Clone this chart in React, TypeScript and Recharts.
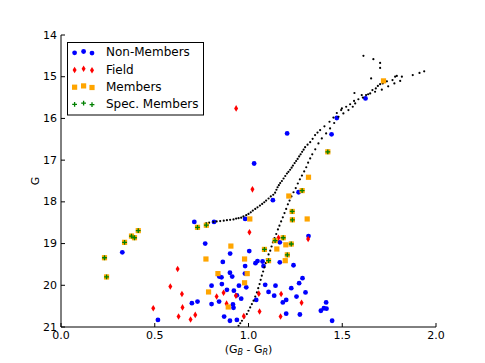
import React from 'react';
import { ScatterChart, Scatter, XAxis, YAxis, Legend } from 'recharts';

const xTicks = [0, 0.5, 1.0, 1.5, 2.0];
const yTicks = [14, 15, 16, 17, 18, 19, 20, 21];
const legendLabels = ['Non-Members', 'Field', 'Members', 'Spec. Members'];

const nonMembers: [number, number][] = [
  [0.711, 18.48], [0.816, 18.48], [0.327, 19.21], [0.769, 19.0], [0.902, 19.24], [0.863, 19.44],
  [0.901, 19.7], [0.844, 19.79], [0.856, 19.81], [0.858, 19.97], [0.803, 20.01], [0.949, 20.01],
  [0.885, 20.11], [0.922, 20.13], [0.843, 20.39], [0.803, 20.45], [0.728, 20.39], [0.698, 20.43],
  [0.917, 20.46], [0.92, 20.54], [0.87, 20.75], [0.938, 20.83], [0.901, 20.85], [0.517, 20.83],
  [1.03, 17.08], [1.13, 17.96], [0.982, 18.41], [1.267, 17.77], [1.32, 18.82], [1.004, 19.18],
  [1.048, 19.42], [1.075, 19.43], [1.167, 19.45], [0.982, 19.54], [1.08, 19.54], [1.24, 19.52],
  [0.981, 19.72], [0.913, 19.79], [0.988, 20.05], [1.089, 19.99], [1.144, 20.01], [1.288, 19.83],
  [1.27, 19.95], [1.228, 20.07], [1.304, 20.17], [0.938, 20.24], [0.961, 20.32], [1.107, 20.16],
  [1.137, 20.25], [1.201, 20.35], [1.256, 20.27], [1.183, 20.41], [1.041, 20.35], [1.201, 20.68],
  [1.274, 20.7], [1.386, 20.61], [1.402, 20.55], [1.416, 20.56], [1.414, 20.41], [1.446, 20.85],
  [1.206, 16.36], [1.443, 16.38], [1.471, 15.99], [1.624, 15.52], [1.167, 18.97], [1.037, 19.47],
];

const field: [number, number][] = [
  [0.934, 15.76], [0.622, 19.61], [0.583, 20.03], [0.645, 20.21], [0.648, 20.53], [0.492, 20.55],
  [0.627, 20.75], [0.716, 20.71], [0.691, 20.82], [0.83, 20.27], [0.867, 20.18], [0.883, 20.44],
  [0.933, 20.25], [1.021, 17.7], [1.005, 18.73], [1.16, 18.86], [1.318, 18.89], [1.055, 20.2],
  [1.174, 20.21], [1.283, 20.42], [1.059, 20.63], [0.975, 20.74], [1.171, 20.75],
];

const members: [number, number][] = [
  [0.906, 19.06], [0.773, 19.37], [0.837, 19.72], [0.787, 20.16], [0.892, 20.52], [1.72, 15.1],
  [1.32, 17.41], [1.215, 17.86], [1.313, 18.41], [1.007, 18.41], [1.199, 19.03], [1.151, 19.13],
  [1.196, 19.41], [0.979, 19.37], [0.993, 19.72], [0.979, 19.94],
];

const specMembers: [number, number][] = [
  [0.232, 19.34], [0.243, 19.8], [0.339, 18.97], [0.376, 18.82], [0.392, 18.86], [0.412, 18.69],
  [0.728, 18.61], [0.775, 18.56], [1.423, 16.8], [1.286, 17.73], [1.233, 18.23], [1.234, 18.43],
  [1.142, 18.93], [1.185, 18.86], [1.228, 19.01], [1.085, 19.14], [1.207, 19.27], [1.107, 19.41],
];

const isochroneA: [number, number][] = [
  [0.775, 18.51], [0.79, 18.5], [0.813, 18.48], [0.83, 18.47], [0.849, 18.46], [0.868, 18.45],
  [0.885, 18.44], [0.902, 18.43], [0.92, 18.42], [0.934, 18.4], [0.947, 18.39], [0.961, 18.38],
  [0.973, 18.35], [0.988, 18.32], [1.0, 18.29], [1.012, 18.25], [1.023, 18.21], [1.036, 18.17],
  [1.048, 18.13], [1.061, 18.09], [1.073, 18.05], [1.084, 18.01], [1.094, 17.97], [1.107, 17.92],
  [1.119, 17.87], [1.132, 17.83], [1.142, 17.78], [1.149, 17.71], [1.155, 17.65], [1.162, 17.6],
  [1.169, 17.55], [1.178, 17.5], [1.187, 17.44], [1.196, 17.38], [1.205, 17.32], [1.213, 17.28],
  [1.222, 17.23], [1.23, 17.18], [1.237, 17.13], [1.246, 17.07], [1.254, 17.02], [1.262, 16.97],
  [1.27, 16.91], [1.278, 16.86], [1.286, 16.8], [1.294, 16.75], [1.302, 16.69], [1.315, 16.63],
  [1.329, 16.57], [1.342, 16.49], [1.355, 16.4], [1.368, 16.34], [1.382, 16.28], [1.405, 16.19],
  [1.432, 16.08], [1.453, 15.98], [1.471, 15.87], [1.494, 15.8], [1.521, 15.72], [1.542, 15.66],
  [1.563, 15.58], [1.586, 15.54], [1.604, 15.44], [1.627, 15.44], [1.649, 15.4], [1.661, 15.32],
  [1.679, 15.28], [1.69, 15.22], [1.702, 15.18], [1.716, 15.16], [1.738, 15.11], [1.768, 15.08],
  [1.782, 15.0], [1.791, 14.98], [1.818, 15.0], [1.876, 14.96], [1.912, 14.91], [1.937, 14.87],
];

const isochroneB: [number, number][] = [
  [0.947, 20.97], [0.956, 20.91], [0.965, 20.85], [0.977, 20.77], [0.991, 20.69], [1.0, 20.61],
  [1.009, 20.53], [1.018, 20.45], [1.027, 20.37], [1.036, 20.27], [1.045, 20.17], [1.052, 20.07],
  [1.059, 19.97], [1.065, 19.87], [1.071, 19.77], [1.078, 19.67], [1.085, 19.57], [1.092, 19.47],
  [1.098, 19.37], [1.107, 19.26], [1.116, 19.17], [1.123, 19.07], [1.13, 18.97], [1.139, 18.87],
  [1.148, 18.77], [1.157, 18.66], [1.165, 18.57], [1.174, 18.47], [1.183, 18.37], [1.192, 18.27],
  [1.201, 18.17], [1.21, 18.06], [1.219, 17.97], [1.229, 17.87], [1.24, 17.77], [1.252, 17.67],
  [1.263, 17.56], [1.274, 17.46], [1.285, 17.37], [1.297, 17.27], [1.308, 17.17], [1.318, 17.06],
  [1.329, 16.96], [1.34, 16.86], [1.356, 16.74], [1.373, 16.6], [1.391, 16.48], [1.414, 16.36],
  [1.435, 16.24], [1.457, 16.11], [1.48, 15.96], [1.506, 15.88], [1.533, 15.8], [1.556, 15.72],
  [1.569, 15.64], [1.61, 15.5], [1.638, 15.42], [1.675, 15.36], [1.711, 15.31], [1.745, 15.23],
  [1.778, 15.16], [1.809, 15.1],
];

const isochroneExtra: [number, number][] = [
  [1.613, 14.5], [1.666, 14.58], [1.702, 14.67], [1.702, 14.79], [1.654, 15.04], [1.565, 15.39],
  [1.498, 15.76],
];

const toPts = (a: [number, number][]) => a.map(([x, y]) => ({ x, y }));

const FONT = 'DejaVu Sans, sans-serif';
const BLUE = '#0000ff';
const RED = '#ff0000';
const ORANGE = '#ffa500';
const GREEN = '#008000';

const Circle = (p: any) => <circle cx={p.cx} cy={p.cy} r={2.4} fill={BLUE} />;
const Dot = (p: any) => <circle cx={p.cx} cy={p.cy} r={1.1} fill="#000" />;
const Diamond = (p: any) => (
  <polygon
    points={`${p.cx},${p.cy - 3.3} ${p.cx + 2},${p.cy} ${p.cx},${p.cy + 3.3} ${p.cx - 2},${p.cy}`}
    fill={RED}
  />
);
const Square = (p: any) => <rect x={p.cx - 2.6} y={p.cy - 2.6} width={5.2} height={5.2} fill={ORANGE} />;
const Plus = (p: any) => (
  <path
    d={`M${p.cx - 2.4},${p.cy}H${p.cx + 2.4}M${p.cx},${p.cy - 2.4}V${p.cy + 2.4}`}
    stroke={GREEN}
    strokeWidth={1.3}
  />
);

const BottomTick = (p: any) => (
  <g>
    <line x1={p.x} y1={p.y} x2={p.x} y2={p.y - 4} stroke="#000" />
    <text x={p.x} y={p.y + 11.5} textAnchor="middle" fontSize={11} fontFamily={FONT} fill="#000">
      {Number(p.payload.value).toFixed(1)}
    </text>
  </g>
);
const TopTick = (p: any) => (
  <line x1={p.x} y1={p.y} x2={p.x} y2={p.y + 4} stroke="#000" />
);
const LeftTick = (p: any) => (
  <g>
    <line x1={p.x} y1={p.y} x2={p.x + 4} y2={p.y} stroke="#000" />
    <text x={p.x - 4} y={p.y} textAnchor="end" dominantBaseline="central" fontSize={11} fontFamily={FONT} fill="#000">
      {p.payload.value}
    </text>
  </g>
);
const RightTick = (p: any) => (
  <line x1={p.x} y1={p.y} x2={p.x - 4} y2={p.y} stroke="#000" />
);

const XLabel = (p: any) => {
  const vb = p.viewBox || { x: 53, y: 319, width: 375, height: 25 };
  const cx = vb.x + vb.width / 2;
  const y = vb.y + 25.5;
  return (
    <text x={cx} y={y} textAnchor="middle" fontSize={11} fontFamily={FONT} fill="#000">
      (G
      <tspan fontSize={8} fontStyle="italic" dy={2.2}>B</tspan>
      <tspan dy={-2.2}> - G</tspan>
      <tspan fontSize={8} fontStyle="italic" dy={2.2}>R</tspan>
      <tspan dy={-2.2}>)</tspan>
    </text>
  );
};

const YLabel = (p: any) => {
  const vb = p.viewBox || { x: 13, y: 27, width: 40, height: 292 };
  const x = vb.x + 14;
  const y = vb.y + vb.height / 2;
  return (
    <text
      x={x}
      y={y}
      transform={`rotate(-90, ${x}, ${y})`}
      textAnchor="middle"
      dominantBaseline="central"
      fontSize={11}
      fontFamily={FONT}
      fill="#000"
    >
      G
    </text>
  );
};

const legendMarkers = [
  (cx: number, cy: number) => <circle cx={cx} cy={cy} r={2.4} fill={BLUE} />,
  (cx: number, cy: number) => (
    <polygon points={`${cx},${cy - 3.3} ${cx + 2},${cy} ${cx},${cy + 3.3} ${cx - 2},${cy}`} fill={RED} />
  ),
  (cx: number, cy: number) => <rect x={cx - 2.6} y={cy - 2.6} width={5.2} height={5.2} fill={ORANGE} />,
  (cx: number, cy: number) => (
    <path d={`M${cx - 2.4},${cy}H${cx + 2.4}M${cx},${cy - 2.4}V${cy + 2.4}`} stroke={GREEN} strokeWidth={1.3} />
  ),
];

const LegendBox = () => {
  const xs = [7.6, 16.6, 25];
  const dys = [0.5, -0.8, 0.8];
  return (
    <svg width={137} height={74} style={{ display: 'block' }}>
      <rect x={0.5} y={0.5} width={136} height={72.5} fill="#fff" stroke="#000" strokeWidth={1} />
      {legendLabels.map((label, i) => {
        const cy = 10.3 + i * 17.2;
        return (
          <g key={label}>
            {xs.map((x, j) => (
              <g key={j}>{legendMarkers[i](x, cy + dys[j])}</g>
            ))}
            <text x={39} y={cy} dominantBaseline="central" fontSize={12} fontFamily={FONT} fill="#000">
              {label}
            </text>
          </g>
        );
      })}
    </svg>
  );
};

export default function App() {
  const specAsMembers = [...members, ...specMembers];
  return (
    <div style={{ width: 469, height: 347, position: 'relative', overflow: 'visible' }}>
      <div style={{ position: 'absolute', left: 0, top: 0 }}>
        <ScatterChart width={469} height={355} margin={{ top: 27, right: 41, bottom: 11, left: 13 }}>
          <XAxis
            xAxisId="b"
            type="number"
            dataKey="x"
            domain={[0, 2]}
            ticks={xTicks}
            interval={0}
            height={25}
            tickSize={0}
            tickMargin={0}
            tickLine={false}
            tick={BottomTick}
            axisLine={{ stroke: '#000' }}
            allowDataOverflow
            label={<XLabel />}
          />
          <XAxis
            xAxisId="t"
            orientation="top"
            type="number"
            dataKey="x"
            domain={[0, 2]}
            ticks={xTicks}
            interval={0}
            height={0}
            tickSize={0}
            tickMargin={0}
            tickLine={false}
            tick={TopTick}
            axisLine={{ stroke: '#000' }}
            allowDataOverflow
          />
          <YAxis
            yAxisId="l"
            type="number"
            dataKey="y"
            domain={[14, 21]}
            reversed
            ticks={yTicks}
            interval={0}
            width={40}
            tickSize={0}
            tickMargin={0}
            tickLine={false}
            tick={LeftTick}
            axisLine={{ stroke: '#000' }}
            allowDataOverflow
            label={<YLabel />}
          />
          <YAxis
            yAxisId="r"
            orientation="right"
            type="number"
            dataKey="y"
            domain={[14, 21]}
            reversed
            ticks={yTicks}
            interval={0}
            width={0}
            tickSize={0}
            tickMargin={0}
            tickLine={false}
            tick={RightTick}
            axisLine={{ stroke: '#000' }}
            allowDataOverflow
          />
          <Legend
            layout="horizontal"
            verticalAlign="middle"
            align="center"
            content={<LegendBox />}
            wrapperStyle={{ position: 'absolute', left: 58.7, top: 34, width: 137, height: 74 }}
          />
          <Scatter name="Non-Members" xAxisId="b" yAxisId="l" data={toPts(nonMembers)} shape={Circle} isAnimationActive={false} />
          <Scatter name="isoA" xAxisId="b" yAxisId="l" data={toPts(isochroneA)} shape={Dot} isAnimationActive={false} legendType="none" />
          <Scatter name="isoB" xAxisId="b" yAxisId="l" data={toPts(isochroneB)} shape={Dot} isAnimationActive={false} legendType="none" />
          <Scatter name="isoC" xAxisId="b" yAxisId="l" data={toPts(isochroneExtra)} shape={Dot} isAnimationActive={false} legendType="none" />
          <Scatter name="Field" xAxisId="b" yAxisId="l" data={toPts(field)} shape={Diamond} isAnimationActive={false} />
          <Scatter name="Members" xAxisId="b" yAxisId="l" data={toPts(specAsMembers)} shape={Square} isAnimationActive={false} />
          <Scatter name="Spec. Members" xAxisId="b" yAxisId="l" data={toPts(specMembers)} shape={Plus} isAnimationActive={false} />
        </ScatterChart>
      </div>
    </div>
  );
}
